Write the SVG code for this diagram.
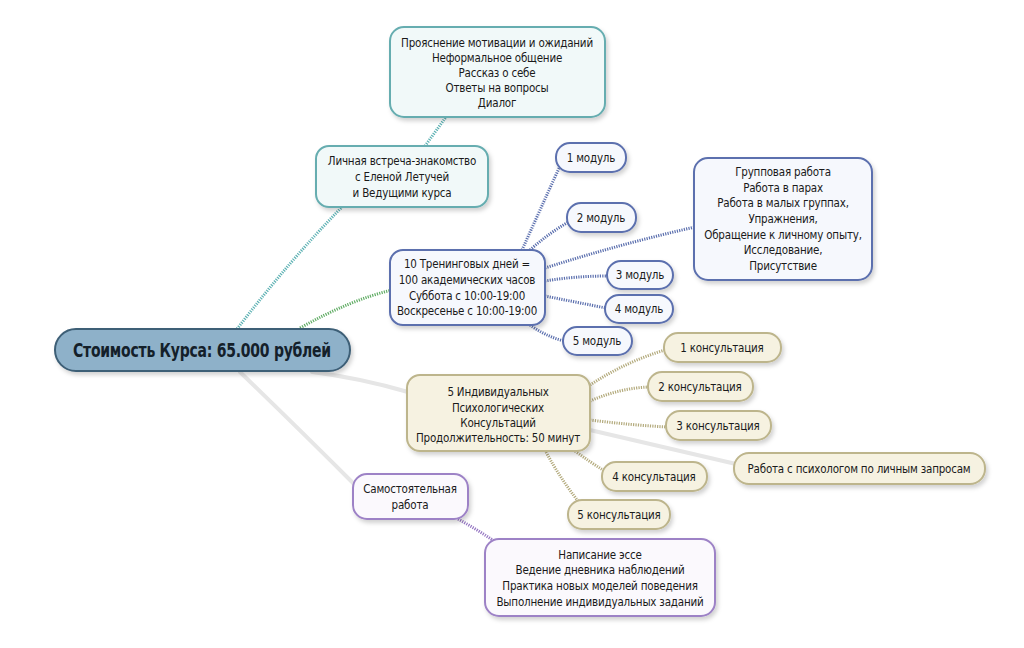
<svg xmlns="http://www.w3.org/2000/svg" width="1024" height="648" viewBox="0 0 1024 648">
<defs>
<filter id="sh" x="-10%" y="-20%" width="130%" height="160%">
<feDropShadow dx="2" dy="3" stdDeviation="2" flood-color="#000" flood-opacity="0.18"/>
</filter>
<style>
text{font-family:"DejaVu Sans Condensed","DejaVu Sans",sans-serif;font-stretch:condensed;font-size:11.5px;letter-spacing:-0.2px;fill:#1a1a1a;text-anchor:middle}
.main{font-size:19px;font-weight:bold;letter-spacing:-0.3px;fill:#14202a}
.n rect{stroke-width:2;filter:url(#sh)}
.teal rect{fill:#f1f9f9;stroke:#66adb0}
.blue rect{fill:#f6f8fd;stroke:#5b6fae}
.khaki rect{fill:#f6f2e1;stroke:#bdb58c}
.purple rect{fill:#fbf9fd;stroke:#9d82c6}
.c path{fill:none;stroke-width:3;stroke-dasharray:1.2 1.2}
.ct{stroke:#5cb1b3}
.cg{stroke:#62ad66}
.cb{stroke:#5b6fae}
.ck{stroke:#b3aa7c}
.cp{stroke:#9677c3}
.cs{fill:none;stroke:#e6e6e6;stroke-width:4;stroke-linecap:round}
</style>
</defs>
<rect width="1024" height="648" fill="#fff"/>
<g id="connectors">
<path class="cs" d="M312,372 Q360,378 408,392"/>
<path class="cs" d="M240,372 Q300,430 356,486"/>
<path class="cs" d="M590,430 Q660,446 736,464"/>
<g class="c">
<path class="ct" d="M237,329 Q290,260 342,207"/>
<path class="ct" d="M425,146 L446,117"/>
<path class="cg" d="M300,328 Q350,300 392,290"/>
<path class="cb" d="M522,250 Q540,210 560,166"/>
<path class="cb" d="M530,250 Q550,232 572,220"/>
<path class="cb" d="M545,268 Q620,244 695,227"/>
<path class="cb" d="M545,281 Q575,276 608,276"/>
<path class="cb" d="M545,296 Q575,302 606,308"/>
<path class="cb" d="M530,325 Q545,336 564,341"/>
<path class="ck" d="M590,385 Q625,362 665,350"/>
<path class="ck" d="M590,401 Q620,388 649,387"/>
<path class="ck" d="M590,420 Q630,425 667,427"/>
<path class="ck" d="M575,451 Q590,462 603,470"/>
<path class="ck" d="M546,452 Q560,478 578,501"/>
<path class="cp" d="M458,519 Q478,530 497,543"/>
</g>
</g>
<g id="n-main" class="n"><rect x="55" y="329" width="295" height="42" rx="21" fill="#8eb1c9" stroke="#3d5e76" stroke-width="2"/><text class="main" x="202" y="357" transform="translate(202 0) scale(0.82 1) translate(-202 0)">Стоимость Курса: 65.000 рублей</text></g>
<g id="n-top" class="n teal"><rect x="390" y="27" width="215" height="90" rx="14"/>
<text x="497" y="47">Прояснение мотивации и ожиданий</text><text x="497" y="62">Неформальное общение</text><text x="497" y="77">Рассказ о себе</text><text x="497" y="92">Ответы на вопросы</text><text x="497" y="107">Диалог</text></g>
<g id="n-meet" class="n teal"><rect x="316" y="146" width="172" height="61" rx="13"/>
<text x="402" y="165">Личная встреча-знакомство</text><text x="402" y="181">с Еленой Летучей</text><text x="402" y="197">и Ведущими курса</text></g>
<g id="n-days" class="n blue"><rect x="390" y="250" width="155" height="75" rx="13"/>
<text x="467" y="268">10 Тренинговых дней =</text><text x="467" y="284">100 академических часов</text><text x="467" y="300">Суббота с 10:00-19:00</text><text x="467" y="315">Воскресенье с 10:00-19:00</text></g>
<g id="n-m1" class="n blue"><rect x="556" y="143" width="70" height="29" rx="14"/><text x="591" y="162">1 модуль</text></g>
<g id="n-m2" class="n blue"><rect x="567" y="203" width="69" height="29" rx="14"/><text x="601" y="222">2 модуль</text></g>
<g id="n-m3" class="n blue"><rect x="607" y="261" width="66" height="28" rx="14"/><text x="640" y="279">3 модуль</text></g>
<g id="n-m4" class="n blue"><rect x="605" y="295" width="68" height="28" rx="14"/><text x="639" y="313">4 модуль</text></g>
<g id="n-m5" class="n blue"><rect x="563" y="327" width="69" height="28" rx="14"/><text x="597" y="345">5 модуль</text></g>
<g id="n-group" class="n blue"><rect x="694" y="158" width="178" height="122" rx="14"/>
<text x="783" y="176">Групповая работа</text><text x="783" y="192">Работа в парах</text><text x="783" y="207">Работа в малых группах,</text><text x="783" y="223">Упражнения,</text><text x="783" y="239">Обращение к личному опыту,</text><text x="783" y="254">Исследование,</text><text x="783" y="270">Присутствие</text></g>
<g id="n-cons" class="n khaki"><rect x="407" y="375" width="183" height="76" rx="13"/>
<text x="498" y="396">5 Индивидуальных</text><text x="498" y="412">Психологических</text><text x="498" y="427">Консультаций</text><text x="498" y="442">Продолжительность: 50 минут</text></g>
<g id="n-c1" class="n khaki"><rect x="664" y="333" width="117" height="29" rx="14"/><text x="722" y="352">1 консультация</text></g>
<g id="n-c2" class="n khaki"><rect x="648" y="372" width="105" height="29" rx="14"/><text x="700" y="391">2 консультация</text></g>
<g id="n-c3" class="n khaki"><rect x="666" y="411" width="105" height="29" rx="14"/><text x="718" y="430">3 консультация</text></g>
<g id="n-c4" class="n khaki"><rect x="602" y="462" width="105" height="29" rx="14"/><text x="654" y="481">4  консультация</text></g>
<g id="n-c5" class="n khaki"><rect x="568" y="500" width="102" height="29" rx="14"/><text x="619" y="519">5 консультация</text></g>
<g id="n-psy" class="n khaki"><rect x="734" y="453" width="251" height="31" rx="15"/><text x="859" y="473">Работа с психологом по личным запросам</text></g>
<g id="n-self" class="n purple"><rect x="353" y="474" width="115" height="45" rx="14"/><text x="410" y="493">Самостоятельная</text><text x="410" y="509">работа</text></g>
<g id="n-tasks" class="n purple"><rect x="485" y="539" width="230" height="77" rx="14"/>
<text x="600" y="559">Написание эссе</text><text x="600" y="574">Ведение дневника наблюдений</text><text x="600" y="590">Практика новых моделей поведения</text><text x="600" y="606">Выполнение индивидуальных заданий</text></g>
</svg>
